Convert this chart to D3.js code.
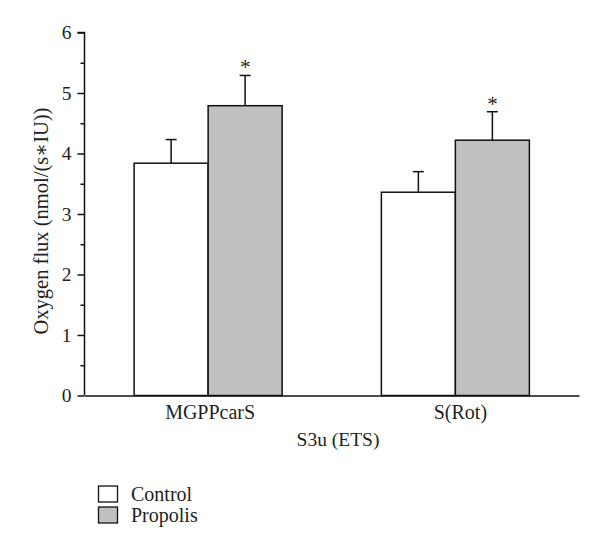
<!DOCTYPE html>
<html><head><meta charset="utf-8">
<script src="https://cdn.jsdelivr.net/npm/d3@7"></script>
<style>body{margin:0;background:#fff;} svg{display:block;} text{font-family:"Liberation Serif","DejaVu Serif",serif;fill:#231f20;}</style>
</head><body><svg id="c" width="600" height="555"></svg>
<script>
const categories = ["MGPPcarS", "S(Rot)"];
const seriesNames = ["Control", "Propolis"];
const controlValues = [3.84, 3.36];
const controlErrors = [0.39, 0.34];
const propolisValues = [4.79, 4.22];
const propolisErrors = [0.50, 0.47];
const propolisSignif = [true, true];
const yTicks = [0, 1, 2, 3, 4, 5, 6];
const yMinorTicks = [0.5, 1.5, 2.5, 3.5, 4.5, 5.5];
const colors = ["#ffffff", "#c0c0c0"];

const svg = d3.select("#c");
const x0 = 84.5, x1 = 579, yB = 395.5, yT = 32.5;
const x = d3.scaleBand().domain(categories).range([x0, x1]).paddingInner(0.4014).paddingOuter(0.2007);
const xs = d3.scaleBand().domain(seriesNames).range([0, x.bandwidth()]);
const y = d3.scaleLinear().domain([0, 6]).range([yB, yT]);

const series = [
  {name: "Control", values: controlValues, errors: controlErrors, sig: [false, false]},
  {name: "Propolis", values: propolisValues, errors: propolisErrors, sig: propolisSignif}
];
const data = [];
series.forEach((s, si) => categories.forEach((c, ci) => data.push({c, s: s.name, si, v: s.values[ci], e: s.errors[ci], sig: s.sig[ci]})));

const g = svg.append("g");
// error bars
data.forEach(d => {
  const cx = x(d.c) + xs(d.s) + xs.bandwidth() / 2;
  g.append("line").attr("x1", cx).attr("x2", cx).attr("y1", y(d.v)).attr("y2", y(d.v + d.e)).attr("stroke", "#111").attr("stroke-width", 1.5);
  g.append("line").attr("x1", cx - 5.5).attr("x2", cx + 5.5).attr("y1", y(d.v + d.e)).attr("y2", y(d.v + d.e)).attr("stroke", "#111").attr("stroke-width", 1.5);
  if (d.sig) g.append("text").attr("x", cx).attr("y", y(d.v + d.e) - 1).attr("text-anchor", "middle").attr("font-size", 21).text("*");
});
// bars
g.selectAll("rect.bar").data(data).enter().append("rect").attr("class", "bar")
  .attr("x", d => x(d.c) + xs(d.s)).attr("width", xs.bandwidth())
  .attr("y", d => y(d.v)).attr("height", d => y(0) - y(d.v))
  .attr("fill", d => colors[d.si]).attr("stroke", "#111").attr("stroke-width", 1.5);

// y axis
const ya = svg.append("g").attr("transform", `translate(${x0},0)`)
  .call(d3.axisLeft(y).tickValues(yTicks).tickSize(7).tickPadding(6).tickFormat(d3.format("d")));
ya.select(".domain").attr("stroke", "#111").attr("stroke-width", 1.5).attr("d", `M-7,${y(6)}H0V${yB}`);
ya.selectAll(".tick line").attr("stroke", "#111").attr("stroke-width", 1.5);
ya.selectAll(".tick text").attr("font-size", 19.5).attr("fill", "#231f20");
const ym = svg.append("g").attr("transform", `translate(${x0},0)`)
  .call(d3.axisLeft(y).tickValues(yMinorTicks).tickSize(4).tickFormat(""));
ym.select(".domain").remove();
ym.selectAll(".tick line").attr("stroke", "#111").attr("stroke-width", 1.5);

// x axis
const xa = svg.append("g").attr("transform", `translate(0,${yB})`)
  .call(d3.axisBottom(x).tickSize(0).tickPadding(9));
xa.select(".domain").attr("stroke", "#111").attr("stroke-width", 1.5);
xa.selectAll(".tick text").attr("font-size", 20).attr("fill", "#231f20").attr("dx", (d, i) => i === 1 ? 5 : 2);

svg.append("text").attr("x", 338).attr("y", 446).attr("text-anchor", "middle").attr("font-size", 19.5).text("S3u (ETS)");
svg.append("text").attr("transform", `translate(48,221) rotate(-90)`).attr("text-anchor", "middle").attr("font-size", 20.5).text("Oxygen flux (nmol/(s∗IU))");

// legend
seriesNames.forEach((n, i) => {
  const ly = 486 + i * 21;
  svg.append("rect").attr("x", 98.5).attr("y", ly).attr("width", 19).attr("height", 16).attr("fill", colors[i]).attr("stroke", "#111").attr("stroke-width", 1.3);
  svg.append("text").attr("x", 131).attr("y", ly + 14.5).attr("font-size", 20).text(n);
});
</script></body></html>
